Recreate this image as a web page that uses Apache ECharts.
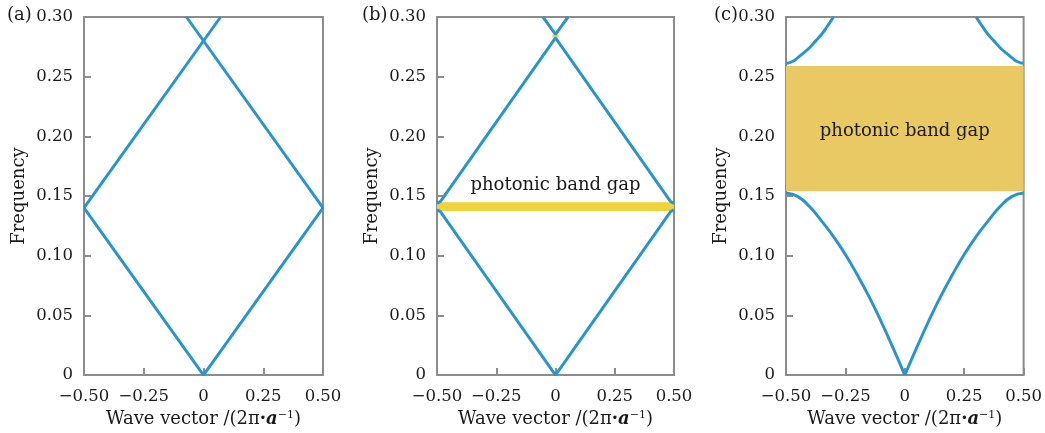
<!DOCTYPE html>
<html>
<head>
<meta charset="utf-8">
<script src="https://cdn.jsdelivr.net/npm/echarts@6/dist/echarts.min.js"></script>
<style>
  html, body { margin: 0; padding: 0; background: #fff; }
  #chart { width: 1045px; height: 433px; }
</style>
</head>
<body>
<div id="chart"></div>
<script>
// Wave-vector axis ticks and frequency axis ticks
const waveTicks = [-0.5, -0.25, 0, 0.25, 0.5];
const freqTicks = [0, 0.05, 0.10, 0.15, 0.20, 0.25, 0.30];

// (a) homogeneous medium: folded light lines
const aLowerBand = [[-0.5, 0.14], [0, 0], [0.5, 0.14]];
const aRising = [[-0.5, 0.14], [0.0714, 0.30]];
const aFalling = [[-0.0714, 0.30], [0.5, 0.14]];

// (b) weak modulation: narrow gaps at the zone edge and the zone centre
const bLowerBand = [[-0.5, 0.1385], [-0.485, 0.1368], [0, 0], [0.485, 0.1368], [0.5, 0.1385]];
const bMiddleBand = [[-0.5, 0.1438], [-0.485, 0.1455], [0, 0.2825], [0.485, 0.1455], [0.5, 0.1438]];
const bUpperBand = [[-0.053, 0.30], [0, 0.2855], [0.053, 0.30]];
const bGap = [0.1375, 0.1448];
const bGapTop = [0.2828, 0.2852];

// (c) strong modulation: wide gap
const cLowerLeft = [
  [-0.5, 0.1525], [-0.45, 0.1495], [-0.4, 0.141], [-0.35, 0.129], [-0.3, 0.116],
  [-0.25, 0.101], [-0.2, 0.084], [-0.15, 0.0655], [-0.1, 0.045], [-0.05, 0.023], [0, 0]
];
const cLowerRight = [
  [0, 0], [0.05, 0.023], [0.1, 0.045], [0.15, 0.0655], [0.2, 0.084], [0.25, 0.101],
  [0.3, 0.116], [0.35, 0.129], [0.4, 0.141], [0.45, 0.1495], [0.5, 0.1525]
];
const cUpperLeft = [
  [-0.5, 0.2612], [-0.475, 0.2625], [-0.45, 0.266], [-0.425, 0.2700], [-0.4, 0.2745],
  [-0.375, 0.2800], [-0.35, 0.2855], [-0.325, 0.2925], [-0.30, 0.30]
];
const cUpperRight = [
  [0.30, 0.30], [0.325, 0.2925], [0.35, 0.2855], [0.375, 0.2800], [0.4, 0.2745],
  [0.425, 0.2700], [0.45, 0.266], [0.475, 0.2625], [0.5, 0.2612]
];
const cGap = [0.154, 0.259];

const gapLabel = 'photonic band gap';
const panelTags = ['(a)', '(b)', '(c)'];

const FONT = 'DejaVu Serif';
const INK = '#1a1a1a';
const FRAME = '#8c8c8c';
const BLUE = '#2a95cb';
const TICK_SIZE = 16.5;
const NAME_SIZE = 18;

const grids = [
  { left: 84, top: 17, width: 239, height: 360 },
  { left: 437, top: 17, width: 237, height: 360 },
  { left: 786, top: 17, width: 238, height: 360 }
];

function fmtWave(v) {
  if (v === 0) return '0';
  return v.toFixed(2).replace('-', '\u2212');
}
function fmtFreq(v) {
  if (v === 0) return '0';
  return v.toFixed(2);
}

const xAxes = grids.map((g, i) => ({
  type: 'value', gridIndex: i,
  min: waveTicks[0], max: waveTicks[waveTicks.length - 1],
  interval: waveTicks[1] - waveTicks[0],
  axisLine: { show: false, onZero: false },
  axisTick: { show: true, inside: true, length: 7, lineStyle: { color: FRAME, width: 2 } },
  splitLine: { show: false },
  axisLabel: {
    formatter: fmtWave, fontFamily: FONT, fontSize: TICK_SIZE, color: INK, margin: 13,
    showMinLabel: true, showMaxLabel: true
  },
  name: '{t|Wave vector /(2\u03c0}{d|\u00b7}{a|a}{s|\u22121}{t|)}',
  nameLocation: 'middle', nameGap: 31,
  nameTextStyle: {
    fontFamily: FONT, fontSize: NAME_SIZE, color: INK,
    rich: {
      t: { fontFamily: FONT, fontSize: NAME_SIZE, color: INK },
      d: { fontFamily: FONT, fontSize: NAME_SIZE, color: INK, fontWeight: 'bold' },
      a: { fontFamily: FONT, fontSize: NAME_SIZE, color: INK, fontWeight: 'bold', fontStyle: 'italic' },
      s: { fontFamily: FONT, fontSize: 11, color: INK, verticalAlign: 'top' }
    }
  }
}));

const yAxes = grids.map((g, i) => ({
  type: 'value', gridIndex: i,
  min: freqTicks[0], max: freqTicks[freqTicks.length - 1],
  interval: freqTicks[1] - freqTicks[0],
  axisLine: { show: false, onZero: false },
  axisTick: { show: true, inside: true, length: 7, lineStyle: { color: FRAME, width: 2 } },
  splitLine: { show: false },
  axisLabel: { formatter: fmtFreq, fontFamily: FONT, fontSize: TICK_SIZE, color: INK, margin: 11 },
  name: 'Frequency', nameLocation: 'middle', nameRotate: 90, nameGap: 56,
  nameTextStyle: { fontFamily: FONT, fontSize: NAME_SIZE, color: INK }
}));

function band(idx, data, extra) {
  return Object.assign({
    type: 'line', xAxisIndex: idx, yAxisIndex: idx, data: data,
    showSymbol: false, symbol: 'none', silent: true, z: 3,
    lineStyle: { color: BLUE, width: 3 }
  }, extra || {});
}

const curved = { smooth: 0.5 };

const series = [
  band(0, aLowerBand),
  band(0, aRising),
  band(0, aFalling),

  // gap strips of panel (b) drawn under the bands
  {
    type: 'line', xAxisIndex: 1, yAxisIndex: 1, data: [], silent: true, z: 2,
    markArea: {
      silent: true,
      itemStyle: { color: '#f0d23a' },
      label: {
        show: true, position: 'top', distance: 8,
        fontFamily: FONT, fontSize: NAME_SIZE, color: INK
      },
      data: [
        [{ name: gapLabel, xAxis: waveTicks[0], yAxis: bGap[1] }, { xAxis: waveTicks[4], yAxis: bGap[0] }],
        [{ name: '', xAxis: -0.013, yAxis: bGapTop[1] }, { xAxis: 0.013, yAxis: bGapTop[0] }]
      ]
    }
  },
  band(1, bLowerBand),
  band(1, bMiddleBand),
  band(1, bUpperBand),

  {
    type: 'line', xAxisIndex: 2, yAxisIndex: 2, data: [], silent: true, z: 2,
    markArea: {
      silent: true,
      itemStyle: { color: '#e8c963' },
      label: {
        show: true, position: 'inside', offset: [0, 3],
        fontFamily: FONT, fontSize: NAME_SIZE, color: INK
      },
      data: [
        [{ name: gapLabel, xAxis: waveTicks[0], yAxis: cGap[1] }, { xAxis: waveTicks[4], yAxis: cGap[0] }]
      ]
    }
  },
  band(2, cLowerLeft, curved),
  band(2, cLowerRight, curved),
  band(2, cUpperLeft, curved),
  band(2, cUpperRight, curved)
];

const tagX = [7, 362, 714];
const graphic = panelTags.map((t, i) => ({
  type: 'text', left: tagX[i], top: 6, z: 10,
  style: { text: t, font: NAME_SIZE + 'px "' + FONT + '"', fill: INK }
}));

const chart = echarts.init(document.getElementById('chart'), null, { renderer: 'canvas' });
chart.setOption({
  animation: false,
  backgroundColor: '#ffffff',
  grid: grids.map(g => Object.assign({
    show: true, borderColor: FRAME, borderWidth: 2, backgroundColor: 'transparent', containLabel: false
  }, g)),
  xAxis: xAxes,
  yAxis: yAxes,
  series: series,
  graphic: graphic
});
</script>
</body>
</html>
